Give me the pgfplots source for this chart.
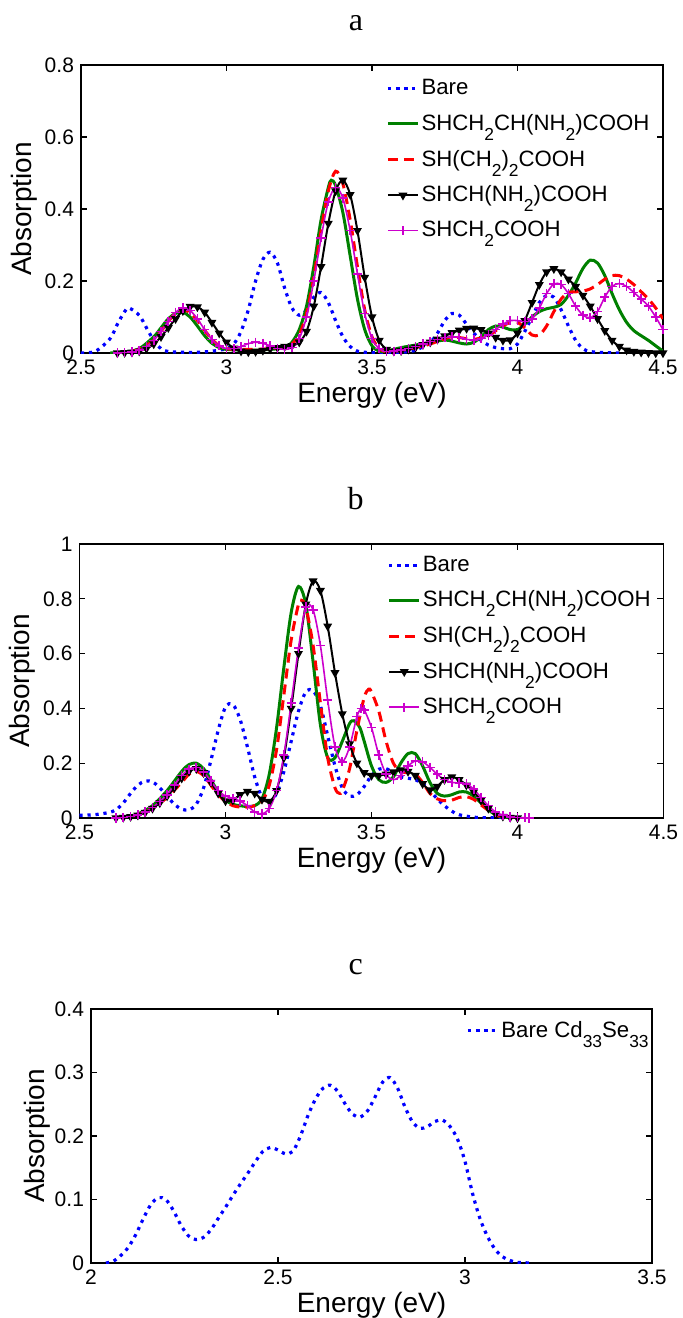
\documentclass[border=0pt]{standalone}
\usepackage{fontspec}
\setmainfont{Liberation Sans}
\newfontfamily\titlefont{Liberation Serif}
\usepackage{pgfplots}
\pgfplotsset{compat=1.18}

\definecolor{mgreen}{rgb}{0,0.5,0}
\definecolor{mmag}{rgb}{0.8,0,0.8}
\newcommand{\sub}[1]{\raisebox{-0.45em}{\fontsize{8.7}{10}\selectfont #1}}

\pgfplotsset{
  mat/.style={
    scale only axis, axis line style={line width=0.8pt},
    every tick/.style={black,line width=0.6pt}, major tick length=3pt,
    /pgf/number format/assume math mode=true,
    ticklabel style={font=\fontsize{10.5}{12}\selectfont},
    label style={font=\fontsize{14}{16}\selectfont},
    xlabel={Energy (eV)}, ylabel={Absorption},
    xlabel style={at={(axis description cs:0.5,0)},anchor=center,yshift=-21pt},
    title style={anchor=base,yshift=11.5pt,font=\titlefont\fontsize{16}{18}\selectfont},
    legend cell align=left,
    legend image code/.code={\draw[mark repeat=2,mark phase=2,##1] plot coordinates {(0pt,0pt) (7.5pt,0pt) (15pt,0pt)};},
    legend style={draw=none,fill=none,anchor=north west,inner sep=0pt,row sep=6.3pt,
      font=\fontsize{11.1}{13}\selectfont,nodes={inner sep=1pt}},
  },
  bare/.style={blue,line width=1.6pt,dash pattern=on 1.6pt off 2.4pt,smooth},
  grn/.style={mgreen,line width=1.5pt,smooth},
  rd/.style={red,line width=1.5pt,dash pattern=on 5pt off 3pt,smooth},
  blk/.style={black,line width=1pt,smooth,mark=triangle*,mark size=1.6pt,mark options={rotate=180,solid}},
  mg/.style={mmag,line width=0.8pt,smooth,mark=+,mark size=2.3pt,mark options={solid,line width=0.8pt}},
}

\begin{document}
\begin{tikzpicture}
\useasboundingbox (0,0) rectangle (341pt,-659pt);

% ---------------- panel a
\begin{axis}[mat, at={(40.5pt,-176.5pt)}, anchor=south west, width=291pt, height=144pt,
  xmin=2.5, xmax=4.5, ymin=0, ymax=0.8, xtick={2.5,3,3.5,4,4.5}, ytick={0,0.2,0.4,0.6,0.8},
  title={a}, title style={at={(axis description cs:0.4725,1)}},
  ylabel style={at={(axis description cs:-0.098,0.5)},anchor=center},
  legend style={at={(axis description cs:0.524,0.958)}}]
\addplot[bare] coordinates {(2.5,0) (2.55,0.005) (2.6,0.04) (2.625,0.08) (2.65,0.115) (2.665,0.125) (2.7,0.105) (2.725,0.07) (2.75,0.035) (2.775,0.012) (2.8,0.004) (2.85,0.002) (2.9,0.002) (2.95,0.005) (3.0,0.012) (3.025,0.025) (3.05,0.06) (3.075,0.12) (3.1,0.2) (3.125,0.26) (3.15,0.28) (3.175,0.25) (3.2,0.18) (3.225,0.125) (3.25,0.105) (3.275,0.12) (3.3,0.155) (3.325,0.168) (3.35,0.14) (3.375,0.09) (3.4,0.045) (3.425,0.018) (3.45,0.005) (3.5,0.001) (3.6,0.002) (3.65,0.008) (3.7,0.03) (3.725,0.055) (3.75,0.09) (3.775,0.11) (3.8,0.105) (3.825,0.08) (3.85,0.055) (3.875,0.035) (3.9,0.022) (3.925,0.015) (3.95,0.012) (3.975,0.012) (4.0,0.025) (4.025,0.06) (4.05,0.1) (4.075,0.14) (4.1,0.16) (4.125,0.155) (4.15,0.12) (4.175,0.075) (4.2,0.035) (4.225,0.012) (4.25,0.004) (4.3,0.001) (4.35,0)};
\addlegendentry{Bare}
\addplot[grn] coordinates {(2.6,0) (2.65,0.002) (2.7,0.012) (2.75,0.045) (2.775,0.07) (2.8,0.095) (2.825,0.11) (2.85,0.113) (2.875,0.1) (2.9,0.075) (2.925,0.048) (2.95,0.027) (2.975,0.015) (3.0,0.01) (3.05,0.008) (3.1,0.008) (3.15,0.01) (3.2,0.015) (3.225,0.03) (3.25,0.065) (3.275,0.13) (3.3,0.24) (3.325,0.37) (3.35,0.46) (3.36,0.48) (3.375,0.465) (3.4,0.39) (3.425,0.27) (3.45,0.15) (3.475,0.065) (3.5,0.02) (3.525,0.005) (3.55,0.005) (3.6,0.015) (3.65,0.022) (3.7,0.03) (3.75,0.036) (3.775,0.033) (3.8,0.028) (3.825,0.025) (3.85,0.03) (3.875,0.045) (3.9,0.065) (3.925,0.075) (3.95,0.072) (3.975,0.065) (4.0,0.065) (4.025,0.08) (4.05,0.1) (4.075,0.115) (4.1,0.123) (4.125,0.127) (4.15,0.135) (4.175,0.16) (4.2,0.195) (4.225,0.235) (4.25,0.258) (4.275,0.25) (4.3,0.215) (4.325,0.165) (4.35,0.12) (4.375,0.085) (4.4,0.062) (4.425,0.048) (4.45,0.035) (4.475,0.02) (4.5,0.005)};
\addlegendentry{SHCH\sub{2}CH(NH\sub{2})COOH}
\addplot[rd] coordinates {(2.62,0) (2.65,0.002) (2.7,0.01) (2.75,0.035) (2.775,0.06) (2.8,0.088) (2.825,0.11) (2.85,0.12) (2.875,0.112) (2.9,0.09) (2.925,0.063) (2.95,0.038) (2.975,0.02) (3.0,0.012) (3.05,0.01) (3.1,0.01) (3.15,0.012) (3.2,0.015) (3.225,0.025) (3.25,0.05) (3.275,0.11) (3.3,0.21) (3.325,0.34) (3.35,0.45) (3.375,0.505) (3.4,0.47) (3.425,0.37) (3.45,0.24) (3.475,0.12) (3.5,0.045) (3.525,0.012) (3.55,0.004) (3.6,0.007) (3.65,0.015) (3.7,0.025) (3.75,0.04) (3.775,0.045) (3.8,0.043) (3.85,0.038) (3.9,0.048) (3.925,0.062) (3.95,0.075) (3.975,0.085) (4.0,0.085) (4.025,0.07) (4.05,0.05) (4.075,0.05) (4.1,0.075) (4.125,0.115) (4.15,0.15) (4.175,0.168) (4.2,0.17) (4.225,0.172) (4.25,0.178) (4.275,0.19) (4.3,0.205) (4.325,0.215) (4.35,0.215) (4.375,0.205) (4.4,0.19) (4.425,0.17) (4.45,0.15) (4.475,0.125) (4.5,0.095)};
\addlegendentry{SH(CH\sub{2})\sub{2}COOH}
\addplot[blk] coordinates {(2.625,0) (2.65,0.001) (2.675,0.002) (2.7,0.005) (2.725,0.012) (2.75,0.025) (2.775,0.045) (2.8,0.07) (2.825,0.095) (2.85,0.117) (2.875,0.129) (2.9,0.128) (2.925,0.113) (2.95,0.085) (2.975,0.055) (3.0,0.03) (3.025,0.013) (3.05,0.005) (3.075,0.003) (3.1,0.004) (3.125,0.007) (3.15,0.011) (3.175,0.015) (3.2,0.018) (3.225,0.02) (3.25,0.03) (3.275,0.06) (3.3,0.13) (3.325,0.24) (3.35,0.36) (3.375,0.45) (3.4,0.48) (3.425,0.44) (3.45,0.34) (3.475,0.21) (3.5,0.1) (3.525,0.035) (3.55,0.01) (3.575,0.005) (3.6,0.006) (3.625,0.01) (3.65,0.016) (3.675,0.023) (3.7,0.03) (3.725,0.038) (3.75,0.047) (3.775,0.056) (3.8,0.063) (3.825,0.068) (3.85,0.069) (3.875,0.065) (3.9,0.055) (3.925,0.043) (3.95,0.035) (3.975,0.036) (4.0,0.055) (4.025,0.09) (4.05,0.14) (4.075,0.19) (4.1,0.225) (4.125,0.234) (4.15,0.225) (4.175,0.205) (4.2,0.185) (4.225,0.16) (4.25,0.13) (4.275,0.095) (4.3,0.062) (4.325,0.035) (4.35,0.018) (4.375,0.008) (4.4,0.004) (4.425,0.002) (4.45,0.001) (4.475,0) (4.5,0)};
\addlegendentry{SHCH(NH\sub{2})COOH}
\addplot[mg] coordinates {(2.625,0) (2.65,0.001) (2.675,0.003) (2.7,0.008) (2.725,0.018) (2.75,0.035) (2.775,0.06) (2.8,0.088) (2.825,0.113) (2.85,0.125) (2.875,0.118) (2.9,0.095) (2.925,0.065) (2.95,0.038) (2.975,0.02) (3.0,0.012) (3.025,0.012) (3.05,0.018) (3.075,0.026) (3.1,0.03) (3.125,0.027) (3.15,0.02) (3.175,0.013) (3.2,0.01) (3.225,0.015) (3.25,0.04) (3.275,0.1) (3.3,0.2) (3.325,0.32) (3.35,0.42) (3.375,0.46) (3.4,0.43) (3.425,0.34) (3.45,0.22) (3.475,0.11) (3.5,0.04) (3.525,0.012) (3.55,0.004) (3.575,0.005) (3.6,0.008) (3.625,0.012) (3.65,0.018) (3.675,0.025) (3.7,0.032) (3.725,0.038) (3.75,0.043) (3.775,0.045) (3.8,0.043) (3.825,0.038) (3.85,0.036) (3.875,0.04) (3.9,0.05) (3.925,0.065) (3.95,0.08) (3.975,0.09) (4.0,0.09) (4.025,0.087) (4.05,0.095) (4.075,0.125) (4.1,0.165) (4.125,0.192) (4.15,0.19) (4.175,0.165) (4.2,0.13) (4.225,0.105) (4.25,0.098) (4.275,0.115) (4.3,0.155) (4.325,0.185) (4.35,0.193) (4.375,0.185) (4.4,0.168) (4.425,0.15) (4.45,0.13) (4.475,0.1) (4.5,0.065)};
\addlegendentry{SHCH\sub{2}COOH}
\end{axis}

% ---------------- panel b
\begin{axis}[mat, at={(39.75pt,-409pt)}, anchor=south west, width=292pt, height=137pt,
  xmin=2.5, xmax=4.5, ymin=0, ymax=1, xtick={2.5,3,3.5,4,4.5}, ytick={0,0.2,0.4,0.6,0.8,1},
  title={b}, title style={at={(axis description cs:0.473,1)}},
  ylabel style={at={(axis description cs:-0.098,0.5)},anchor=center},
  legend style={at={(axis description cs:0.527,0.965)}}]
\addplot[bare] coordinates {(2.5,0.01) (2.55,0.012) (2.6,0.02) (2.625,0.03) (2.65,0.055) (2.675,0.09) (2.7,0.12) (2.725,0.135) (2.75,0.132) (2.775,0.11) (2.8,0.08) (2.825,0.05) (2.85,0.032) (2.875,0.03) (2.9,0.05) (2.925,0.11) (2.95,0.21) (2.975,0.32) (3.0,0.405) (3.025,0.415) (3.05,0.36) (3.075,0.26) (3.1,0.15) (3.125,0.075) (3.15,0.06) (3.175,0.09) (3.2,0.17) (3.225,0.28) (3.25,0.39) (3.275,0.46) (3.3,0.465) (3.325,0.41) (3.35,0.3) (3.375,0.19) (3.4,0.11) (3.425,0.08) (3.45,0.085) (3.475,0.115) (3.5,0.155) (3.525,0.178) (3.55,0.18) (3.575,0.165) (3.6,0.15) (3.625,0.145) (3.65,0.14) (3.675,0.125) (3.7,0.1) (3.725,0.07) (3.75,0.045) (3.775,0.025) (3.8,0.012) (3.85,0.003) (3.9,0.001) (3.95,0)};
\addlegendentry{Bare}
\addplot[grn] coordinates {(2.625,0) (2.65,0.003) (2.7,0.015) (2.75,0.045) (2.8,0.1) (2.85,0.17) (2.875,0.195) (2.9,0.2) (2.925,0.18) (2.95,0.14) (2.975,0.095) (3.0,0.065) (3.025,0.05) (3.05,0.045) (3.075,0.042) (3.1,0.045) (3.125,0.07) (3.15,0.16) (3.175,0.33) (3.2,0.55) (3.225,0.75) (3.25,0.845) (3.275,0.78) (3.3,0.57) (3.325,0.34) (3.35,0.22) (3.375,0.22) (3.4,0.28) (3.425,0.345) (3.44,0.355) (3.46,0.33) (3.475,0.28) (3.5,0.19) (3.525,0.14) (3.55,0.13) (3.575,0.15) (3.6,0.2) (3.625,0.235) (3.65,0.235) (3.675,0.19) (3.7,0.13) (3.725,0.09) (3.75,0.08) (3.775,0.085) (3.8,0.095) (3.825,0.095) (3.85,0.08) (3.875,0.055) (3.9,0.03) (3.925,0.012) (3.95,0.004) (3.975,0.001) (4.0,0)};
\addlegendentry{SHCH\sub{2}CH(NH\sub{2})COOH}
\addplot[rd] coordinates {(2.625,0) (2.65,0.003) (2.7,0.012) (2.75,0.035) (2.8,0.075) (2.85,0.13) (2.875,0.16) (2.9,0.17) (2.925,0.155) (2.95,0.12) (2.975,0.085) (3.0,0.06) (3.025,0.045) (3.05,0.04) (3.075,0.04) (3.1,0.045) (3.125,0.06) (3.15,0.12) (3.175,0.25) (3.2,0.45) (3.225,0.65) (3.25,0.78) (3.26,0.795) (3.275,0.77) (3.3,0.63) (3.325,0.42) (3.35,0.22) (3.375,0.11) (3.39,0.09) (3.4,0.1) (3.425,0.18) (3.45,0.32) (3.475,0.44) (3.49,0.47) (3.5,0.46) (3.525,0.39) (3.55,0.28) (3.575,0.2) (3.6,0.17) (3.625,0.165) (3.65,0.16) (3.675,0.13) (3.7,0.09) (3.725,0.07) (3.75,0.063) (3.775,0.065) (3.8,0.075) (3.825,0.078) (3.85,0.068) (3.875,0.048) (3.9,0.028) (3.925,0.012) (3.95,0.004) (4.0,0)};
\addlegendentry{SH(CH\sub{2})\sub{2}COOH}
\addplot[blk] coordinates {(2.625,0) (2.65,0.002) (2.675,0.005) (2.7,0.01) (2.725,0.02) (2.75,0.035) (2.775,0.055) (2.8,0.08) (2.825,0.11) (2.85,0.145) (2.875,0.17) (2.9,0.18) (2.925,0.165) (2.95,0.13) (2.975,0.09) (3.0,0.062) (3.025,0.065) (3.05,0.085) (3.075,0.097) (3.1,0.09) (3.125,0.068) (3.15,0.06) (3.175,0.1) (3.2,0.22) (3.225,0.4) (3.25,0.6) (3.275,0.78) (3.3,0.865) (3.325,0.83) (3.35,0.7) (3.375,0.53) (3.4,0.38) (3.425,0.27) (3.45,0.2) (3.475,0.165) (3.5,0.155) (3.525,0.155) (3.55,0.16) (3.575,0.168) (3.6,0.175) (3.625,0.17) (3.65,0.155) (3.675,0.125) (3.7,0.102) (3.725,0.115) (3.75,0.14) (3.775,0.15) (3.8,0.14) (3.825,0.12) (3.85,0.095) (3.875,0.065) (3.9,0.035) (3.925,0.015) (3.95,0.006) (3.975,0.002) (4.0,0)};
\addlegendentry{SHCH(NH\sub{2})COOH}
\addplot[mg] coordinates {(2.625,0) (2.65,0.002) (2.675,0.005) (2.7,0.012) (2.725,0.022) (2.75,0.038) (2.775,0.06) (2.8,0.085) (2.825,0.12) (2.85,0.155) (2.875,0.178) (2.9,0.185) (2.925,0.168) (2.95,0.135) (2.975,0.1) (3.0,0.08) (3.025,0.072) (3.05,0.062) (3.075,0.045) (3.1,0.022) (3.125,0.015) (3.15,0.035) (3.175,0.1) (3.2,0.23) (3.225,0.42) (3.25,0.62) (3.275,0.77) (3.3,0.76) (3.325,0.63) (3.35,0.43) (3.375,0.26) (3.4,0.205) (3.425,0.26) (3.45,0.37) (3.465,0.4) (3.475,0.395) (3.5,0.33) (3.525,0.23) (3.55,0.16) (3.575,0.14) (3.6,0.155) (3.625,0.19) (3.65,0.208) (3.675,0.205) (3.7,0.185) (3.725,0.16) (3.75,0.14) (3.775,0.13) (3.8,0.128) (3.825,0.125) (3.85,0.105) (3.875,0.075) (3.9,0.045) (3.925,0.022) (3.95,0.01) (3.975,0.004) (4.0,0.002) (4.025,0.001) (4.04,0)};
\addlegendentry{SHCH\sub{2}COOH}
\end{axis}

% ---------------- panel c
\begin{axis}[mat, at={(45.5pt,-631.5pt)}, anchor=south west, width=280.5pt, height=127pt,
  xmin=2, xmax=3.5, ymin=0, ymax=0.4, xtick={2,2.5,3,3.5}, ytick={0,0.1,0.2,0.3,0.4},
  title={c}, title style={at={(axis description cs:0.472,1)}},
  ylabel style={at={(axis description cs:-0.096,0.5)},anchor=center},
  legend style={at={(axis description cs:0.668,0.962)}}]
\addplot[bare] coordinates {(2.04,0) (2.06,0.003) (2.08,0.012) (2.1,0.025) (2.12,0.045) (2.14,0.07) (2.16,0.092) (2.18,0.103) (2.2,0.1) (2.22,0.083) (2.24,0.06) (2.26,0.043) (2.28,0.037) (2.3,0.04) (2.32,0.052) (2.34,0.07) (2.36,0.088) (2.38,0.107) (2.4,0.125) (2.42,0.142) (2.44,0.16) (2.46,0.176) (2.48,0.182) (2.5,0.178) (2.52,0.172) (2.54,0.176) (2.56,0.2) (2.58,0.232) (2.6,0.258) (2.62,0.275) (2.64,0.28) (2.66,0.27) (2.68,0.25) (2.7,0.234) (2.72,0.23) (2.74,0.24) (2.76,0.262) (2.78,0.285) (2.8,0.292) (2.82,0.275) (2.84,0.245) (2.86,0.222) (2.88,0.212) (2.9,0.215) (2.92,0.223) (2.94,0.225) (2.96,0.215) (2.98,0.195) (3.0,0.16) (3.02,0.11) (3.04,0.07) (3.06,0.042) (3.08,0.022) (3.1,0.01) (3.12,0.004) (3.14,0.001) (3.18,0)};
\addlegendentry{Bare Cd\sub{33}Se\sub{33}}
\end{axis}
\end{tikzpicture}
\end{document}
